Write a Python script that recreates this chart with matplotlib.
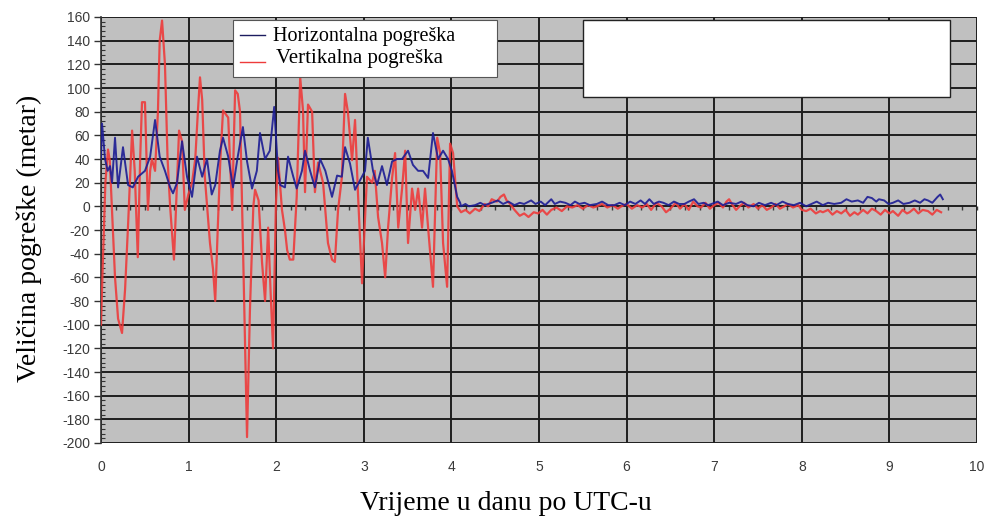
import matplotlib
matplotlib.use("Agg")
import matplotlib.pyplot as plt
from matplotlib.patches import Rectangle
from matplotlib.lines import Line2D
from matplotlib.ticker import MultipleLocator

plt.rcParams["axes.unicode_minus"] = False

# ---------------- data ----------------
horiz_x = [0.0, 0.012, 0.046, 0.076, 0.103, 0.126, 0.16, 0.195, 0.251, 0.309, 0.363, 0.423, 0.502,
           0.561, 0.617, 0.67, 0.73, 0.789, 0.822, 0.868, 0.925, 0.982, 1.039, 1.096, 1.155, 1.21,
           1.264, 1.304, 1.358, 1.393, 1.452, 1.507, 1.561, 1.62, 1.667, 1.724, 1.779, 1.815, 1.873,
           1.927, 1.977, 2.021, 2.046, 2.1, 2.135, 2.195, 2.234, 2.294, 2.329, 2.387, 2.442, 2.501,
           2.561, 2.637, 2.695, 2.749, 2.786, 2.843, 2.9, 2.957, 3.014, 3.046, 3.105, 3.151, 3.208,
           3.264, 3.323, 3.38, 3.437, 3.505, 3.561, 3.62, 3.676, 3.734, 3.79, 3.848, 3.905, 3.962,
           4.006, 4.066, 4.1,
           4.11, 4.16, 4.20, 4.27, 4.33, 4.38, 4.46, 4.53, 4.59, 4.65, 4.72, 4.78, 4.83, 4.91, 4.96,
           5.02, 5.07, 5.14, 5.18, 5.24, 5.30, 5.36, 5.41, 5.46, 5.52, 5.58, 5.66, 5.72, 5.79, 5.86,
           5.92, 5.98, 6.04, 6.10, 6.16, 6.21, 6.26, 6.31, 6.37, 6.42, 6.48, 6.54, 6.60, 6.66, 6.71,
           6.77, 6.82, 6.88, 6.93, 6.97, 7.04, 7.10, 7.17, 7.25, 7.31, 7.38, 7.45, 7.51, 7.58, 7.65,
           7.71, 7.78, 7.84, 7.91, 7.98, 8.05, 8.11, 8.17, 8.24, 8.30, 8.37, 8.45, 8.51, 8.57, 8.64,
           8.70, 8.75, 8.80, 8.85, 8.88, 8.94, 8.99, 9.04, 9.10, 9.16, 9.23, 9.29, 9.35, 9.40, 9.44,
           9.49, 9.55, 9.58, 9.61]
horiz_y = [40, 70, 40, 30, 34, 20, 58, 16, 50, 18, 16, 25, 30,
           42, 73, 42, 30, 16, 11, 20, 55, 25, 8, 42, 25, 40,
           10, 18, 47, 58, 42, 16, 42, 67, 38, 15, 30, 62, 40,
           47, 84, 30, 18, 16, 42, 25, 15, 30, 47, 30, 16, 40,
           30, 8, 26, 25, 50, 36, 14, 22, 30, 58, 30, 18, 34,
           18, 38, 40, 40, 47, 35, 30, 30, 24, 62, 40, 47, 40,
           30, 8, 3,
           0, 2, 0, 1, 3, 1, 3, 5, 2, 4, 1, 3, 2, 5, 2,
           4, 1, 6, 2, 4, 3, 1, 4, 2, 3, 1, 2, 4, 1, 1,
           3, 1, 4, 2, 5, 2, 6, 2, 4, 3, 1, 4, 2, 2, 4,
           6, 2, 3, 1, 2, 4, 1, 3, 2, 4, 1, 0, 3, 1, 3,
           1, 4, 2, 1, 3, 0, 2, 4, 1, 3, 2, 3, 6, 4, 5,
           3, 8, 7, 4, 6, 5, 2, 3, 5, 2, 3, 5, 3, 6, 5,
           3, 8, 10, 6]

vert_x = [0.0, 0.02, 0.05, 0.08, 0.10, 0.13, 0.16, 0.195, 0.24, 0.275, 0.31, 0.335, 0.355, 0.385,
          0.42, 0.447, 0.468, 0.502, 0.536, 0.561, 0.581, 0.617, 0.65, 0.67, 0.697, 0.73, 0.76,
          0.789, 0.833, 0.868, 0.891, 0.925, 0.957, 0.997, 1.039, 1.076, 1.106, 1.13, 1.155, 1.185,
          1.244, 1.279, 1.304, 1.333, 1.363, 1.393, 1.452, 1.497, 1.531, 1.561, 1.587, 1.62, 1.667,
          1.7, 1.739, 1.759, 1.799, 1.838, 1.873, 1.908, 1.937, 1.964, 1.996, 2.021, 2.066, 2.1,
          2.125, 2.155, 2.195, 2.234, 2.254, 2.274, 2.306, 2.329, 2.363, 2.41, 2.442, 2.478, 2.535,
          2.591, 2.637, 2.67, 2.706, 2.749, 2.786, 2.818, 2.866, 2.9, 2.934, 2.98, 3.036, 3.095,
          3.125, 3.163, 3.208, 3.244, 3.277, 3.323, 3.357, 3.393, 3.437, 3.472, 3.505, 3.551, 3.586,
          3.62, 3.665, 3.699, 3.734, 3.79, 3.838, 3.871, 3.905, 3.951, 3.985, 4.019, 4.066,
          4.11, 4.16, 4.21, 4.27, 4.32, 4.38, 4.42, 4.46, 4.52, 4.56, 4.60, 4.63, 4.67, 4.72, 4.78,
          4.83, 4.88, 4.94, 4.99, 5.04, 5.09, 5.14, 5.20, 5.26, 5.32, 5.38, 5.44, 5.50, 5.56, 5.62,
          5.66, 5.72, 5.78, 5.84, 5.90, 5.94, 6.00, 6.06, 6.12, 6.18, 6.23, 6.28, 6.34, 6.40, 6.45,
          6.50, 6.56, 6.61, 6.66, 6.71, 6.76, 6.81, 6.85, 6.90, 6.95, 7.00, 7.05, 7.10, 7.14, 7.17,
          7.21, 7.25, 7.29, 7.34, 7.39, 7.45, 7.50, 7.55, 7.60, 7.65, 7.70, 7.75, 7.80, 7.84, 7.90,
          7.96, 8.00, 8.05, 8.10, 8.16, 8.21, 8.24, 8.30, 8.35, 8.40, 8.45, 8.50, 8.55, 8.60, 8.64,
          8.70, 8.75, 8.80, 8.85, 8.90, 8.95, 9.00, 9.04, 9.10, 9.15, 9.20, 9.23, 9.28, 9.33, 9.38,
          9.44, 9.49, 9.54, 9.59]
vert_y = [-100, -50, 20, 48, 39, -10, -60, -95, -107, -70, -14, 30, 64, 30,
          -43, 40, 88, 88, -3, 30, 40, 30, 80, 140, 157, 120, 40,
          0, -45, 20, 64, 55, -3, 10, 20, 40, 80, 109, 90, 25,
          -31, -53, -80, -18, 40, 81, 75, -3, 98, 95, 80, -31, -195,
          -88, 0, 14, 5, -47, -80, -18, -74, -120, 0, 41, -3, -20,
          -37, -45, -45, 8, 60, 109, 81, 12, 86, 80, 12, 37, 20,
          -31, -45, -47, -3, 24, 95, 80, 39, 73, 10, -65, 25, 20,
          30, -9, -31, -60, -18, 24, 45, -18, 15, 47, -31, 15, -3,
          15, -18, 15, -18, -68, 58, 45, -31, -68, 53, 45, 0,
          -5, -3, -6, -2, -4, 2, 0, 6, 4, 8, 10, 5, 2, -3, -8,
          -6, -9, -5, -6, -3, -7, -3, -1, -4, 0, -1, 1, -2, 1, -1,
          0, 2, -1, 1, -2, 0, 2, -2, 1, -1, 2, -3, 3, 0, -5,
          -2, 3, -2, 2, -3, 4, 0, -1, 3, -2, 1, 3, -1, 4, 6,
          1, -3, 0, 3, -1, 2, -2, 1, -3, -1, 2, -2, 0, 2, -1,
          1, -3, -4, -2, -6, -4, -5, -3, -7, -4, -6, -3, -8, -5, -7,
          -3, -6, -2, -4, -7, -3, -6, -4, -8, -3, -6, -5, -2, -6, -3,
          -4, -7, -3, -5]

x_ticks = list(range(0, 11))
y_ticks = list(range(-200, 161, 20))
label_h = "Horizontalna pogreška"
label_v = "Vertikalna pogreška"
xlabel = "Vrijeme u danu po UTC-u"
ylabel = "Veličina pogreške (metar)"

# ---------------- figure ----------------
fig = plt.figure(figsize=(9.88, 5.22), dpi=100)
fig.patch.set_facecolor("white")
ax = fig.add_axes([101 / 988, 1 - 443 / 522, (977 - 101) / 988, (443 - 17) / 522])
ax.set_facecolor("#c0c0c0")

ax.plot(vert_x, vert_y, color="#ee3b3b", lw=1.6, zorder=3, alpha=0.9)
ax.plot(horiz_x, horiz_y, color="#1c1c94", lw=1.4, zorder=4, alpha=0.9)

ax.set_xlim(0, 10)
ax.set_ylim(-200, 160)
ax.set_xticks(x_ticks)
ax.set_yticks(y_ticks)
ax.yaxis.set_minor_locator(MultipleLocator(4))
ax.grid(True, which="major", color="#1e1e1e", lw=1.4, zorder=1)
ax.set_axisbelow(True)

for s in ["top", "right", "bottom"]:
    ax.spines[s].set_visible(False)
ax.spines["left"].set_color("#333333")
ax.spines["left"].set_linewidth(1.2)

ax.tick_params(axis="y", which="major", direction="out", length=5, width=1,
               color="#333333", labelsize=10, labelcolor="#3a3a3a", pad=3)
ax.tick_params(axis="y", which="minor", direction="in", length=3, width=0.8, color="#333333")
ax.tick_params(axis="x", which="major", length=0, labelsize=10, labelcolor="#3a3a3a", pad=12)
for lab in ax.get_xticklabels() + ax.get_yticklabels():
    lab.set_family("Liberation Sans")

# small ticks along the zero line (category axis crossing)
sec = ax.secondary_xaxis(200 / 360)
sec.spines["bottom"].set_visible(False)
sec.spines["top"].set_visible(False)
sec.set_xticks([])
sec.xaxis.set_minor_locator(MultipleLocator(1 / 6))
sec.tick_params(axis="x", which="minor", direction="in", length=3, width=1.0,
                color="#3a3a3a", top=True, bottom=False)
sec.tick_params(axis="x", which="major", length=0, labelbottom=False, labeltop=False)

# axis titles
fig.text(506 / 988, 1 - 510 / 522, xlabel, ha="center", va="baseline",
         fontsize=20, family="Liberation Serif")
fig.text(29 / 988, 1 - 238 / 522, ylabel, ha="center", va="center", rotation=90,
         fontsize=20, family="Liberation Serif")

# legend box
fig.patches.append(Rectangle((233 / 988, 1 - 77 / 522), (497 - 233) / 988, (77 - 20) / 522,
                             transform=fig.transFigure, facecolor="white", edgecolor="#555555",
                             lw=0.8, zorder=5))
fig.lines.append(Line2D([240 / 988, 265 / 988], [1 - 35 / 522, 1 - 35 / 522],
                        transform=fig.transFigure, color="#1c1c60", lw=1.0, zorder=6))
fig.lines.append(Line2D([240 / 988, 265 / 988], [1 - 62 / 522, 1 - 62 / 522],
                        transform=fig.transFigure, color="#ee3b3b", lw=1.0, zorder=6))
fig.text(273 / 988, 1 - 37 / 522, label_h, ha="left", va="center", fontsize=14.5,
         family="Liberation Serif", zorder=7)
fig.text(276 / 988, 1 - 59 / 522, label_v, ha="left", va="center", fontsize=15,
         family="Liberation Serif", zorder=7)

# blank white box (top right)
fig.patches.append(Rectangle((583 / 988, 1 - 97 / 522), (950 - 583) / 988, (97 - 20) / 522,
                             transform=fig.transFigure, facecolor="white", edgecolor="#222222",
                             lw=1.0, zorder=5))

fig.savefig("out.png", dpi=100)
